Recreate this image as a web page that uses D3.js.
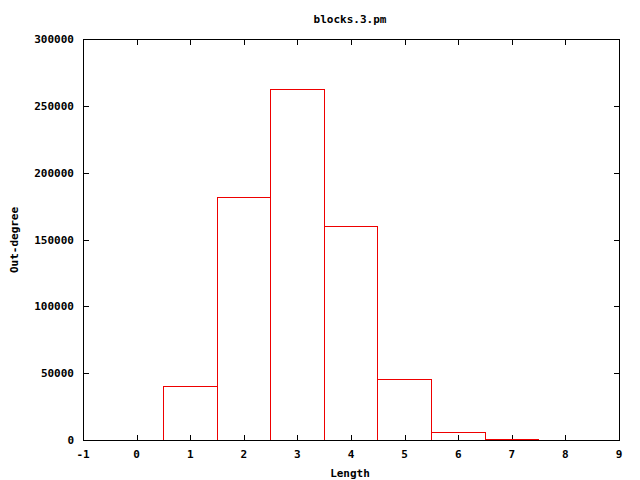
<!DOCTYPE html>
<html><head><meta charset="utf-8">
<script src="https://cdn.jsdelivr.net/npm/d3@7"></script>
<style>body{margin:0;background:#fff}svg text{font-family:"DejaVu Sans Mono",monospace;font-weight:bold;font-size:11px}</style>
</head><body><svg id="c" width="640" height="480" shape-rendering="crispEdges"></svg>
<script>
const lengths = [1, 2, 3, 4, 5, 6, 7];
const counts = [40300, 182000, 262400, 160000, 46000, 6000, 600];
const xTicks = [-1, 0, 1, 2, 3, 4, 5, 6, 7, 8, 9];
const yTicks = [0, 50000, 100000, 150000, 200000, 250000, 300000];

const svg = d3.select("#c");
const L = 83, R = 619, T = 39, B = 440;
const x = d3.scaleLinear().domain([-1, 9]).range([L, R]);
const y = d3.scaleLinear().domain([0, 300000]).range([B, T]);
const r = Math.round, f = Math.floor;
const RED = "#ee0000";

function hline(g, x0, x1, yy, c) { g.append("rect").attr("x", Math.min(x0, x1)).attr("y", yy).attr("width", Math.abs(x1 - x0) + 1).attr("height", 1).attr("fill", c); }
function vline(g, xx, y0, y1, c) { g.append("rect").attr("x", xx).attr("y", Math.min(y0, y1)).attr("width", 1).attr("height", Math.abs(y1 - y0) + 1).attr("fill", c); }

const tk = 5;
const axisG = svg.append("g");
xTicks.forEach(t => {
  vline(axisG, r(x(t)), r(B), r(B) - tk, "#000");
  vline(axisG, r(x(t)), r(T), r(T) + tk, "#000");
});
yTicks.forEach(t => {
  hline(axisG, r(L), r(L) + tk, r(y(t)), "#000");
  hline(axisG, r(R), r(R) - tk, r(y(t)), "#000");
});

const barG = svg.append("g");
lengths.forEach((d, i) => {
  const x0 = f(x(d - 0.5)), x1 = f(x(d + 0.5)), y1 = r(y(counts[i]));
  vline(barG, x0, r(B), y1, RED);
  vline(barG, x1, r(B), y1, RED);
  hline(barG, x0, x1, y1, RED);
});

const frame = svg.append("g");
hline(frame, r(L), r(R), r(T), "#000");
hline(frame, r(L), r(R), r(B), "#000");
vline(frame, r(L), r(T), r(B), "#000");
vline(frame, r(R), r(T), r(B), "#000");

svg.append("g").selectAll("text").data(xTicks).join("text")
  .attr("x", d => x(d)).attr("y", 458).attr("text-anchor", "middle").text(d => d);
svg.append("g").selectAll("text").data(yTicks).join("text")
  .attr("x", 74).attr("y", d => y(d) + 4).attr("text-anchor", "end").text(d => d);

svg.append("text").attr("x", 350).attr("y", 23).attr("text-anchor", "middle").text("blocks.3.pm");
svg.append("text").attr("x", 350).attr("y", 477).attr("text-anchor", "middle").text("Length");
svg.append("text").attr("transform", "translate(18,240) rotate(-90)").attr("text-anchor", "middle").text("Out-degree");
</script></body></html>
